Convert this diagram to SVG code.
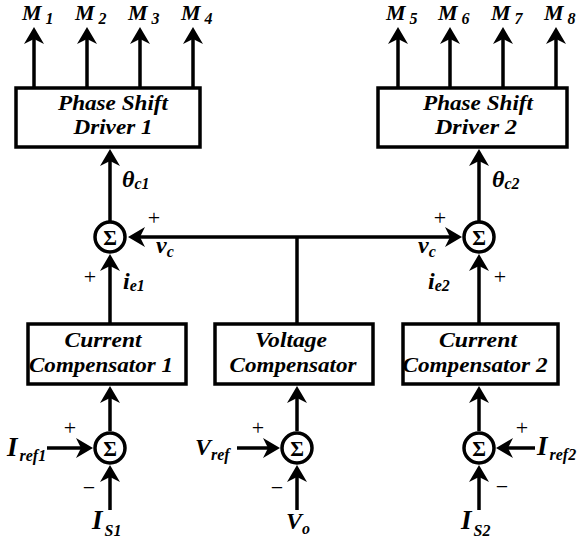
<svg xmlns="http://www.w3.org/2000/svg" width="582" height="542" viewBox="0 0 582 542">
<defs>
<marker id="ah" markerUnits="userSpaceOnUse" viewBox="-14 -11 21 22" markerWidth="21" markerHeight="22" refX="0" refY="0" orient="auto" overflow="visible">
<path d="M5,0 L-12,-10 L-7,0 L-12,10 Z" fill="#000"/>
</marker>
</defs>
<style>
.ln{stroke:#000;stroke-width:3.5;fill:none}
.arr{stroke:#000;stroke-width:3.5;fill:none;marker-end:url(#ah)}
.box{stroke:#000;stroke-width:3.5;fill:#fff}
.sum{stroke:#000;stroke-width:3.5;fill:#fff}
text{font-family:"Liberation Serif","Times New Roman",serif;font-weight:bold;font-style:italic;fill:#000}
.bt{font-size:22px;text-anchor:middle}
.sg{font-size:21px;font-style:normal;text-anchor:middle}
.pm{font-size:22px;font-style:normal;font-weight:normal;text-anchor:middle}
.lb{font-size:24px}
.ml{font-size:22px}
.big{font-size:27px}
.sb{font-size:16px}
</style>

<g id="connectors">
<line class="arr" x1="34" y1="87" x2="34" y2="32"/>
<line class="arr" x1="87" y1="87" x2="87" y2="32"/>
<line class="arr" x1="140" y1="87" x2="140" y2="32"/>
<line class="arr" x1="193" y1="87" x2="193" y2="32"/>
<line class="arr" x1="398" y1="87" x2="398" y2="32"/>
<line class="arr" x1="450" y1="87" x2="450" y2="32"/>
<line class="arr" x1="503" y1="87" x2="503" y2="32"/>
<line class="arr" x1="556" y1="87" x2="556" y2="32"/>
<line class="arr" x1="110" y1="221" x2="110" y2="154"/>
<line class="arr" x1="479" y1="221" x2="479" y2="154"/>
<line class="ln" x1="297" y1="237" x2="297" y2="323"/>
<line class="arr" x1="297" y1="237" x2="133" y2="237"/>
<line class="arr" x1="297" y1="237" x2="457" y2="237"/>
<line class="arr" x1="110" y1="323" x2="110" y2="259"/>
<line class="arr" x1="479" y1="323" x2="479" y2="259"/>
<line class="arr" x1="110" y1="431" x2="110" y2="391"/>
<line class="arr" x1="297" y1="431" x2="297" y2="391"/>
<line class="arr" x1="479" y1="431" x2="479" y2="391"/>
<line class="arr" x1="47" y1="448" x2="88" y2="448"/>
<line class="arr" x1="237" y1="448" x2="275" y2="448"/>
<line class="arr" x1="535" y1="448" x2="501" y2="448"/>
<line class="arr" x1="110" y1="510" x2="110" y2="470"/>
<line class="arr" x1="297" y1="510" x2="297" y2="470"/>
<line class="arr" x1="479" y1="510" x2="479" y2="470"/>
</g>

<g id="psd1">
<rect class="box" x="16" y="88" width="184" height="59"/>
<text class="bt" x="113" y="110" textLength="110" lengthAdjust="spacingAndGlyphs">Phase Shift</text>
<text class="bt" x="113" y="134" textLength="79" lengthAdjust="spacingAndGlyphs">Driver 1</text>
</g>
<g id="psd2">
<rect class="box" x="378" y="88" width="189" height="59"/>
<text class="bt" x="478" y="110" textLength="110" lengthAdjust="spacingAndGlyphs">Phase Shift</text>
<text class="bt" x="476" y="134" textLength="82" lengthAdjust="spacingAndGlyphs">Driver 2</text>
</g>
<g id="cc1">
<rect class="box" x="28" y="324" width="158" height="60"/>
<text class="bt" x="103" y="347" textLength="77" lengthAdjust="spacingAndGlyphs">Current</text>
<text class="bt" x="101" y="372" textLength="144" lengthAdjust="spacingAndGlyphs">Compensator 1</text>
</g>
<g id="vc">
<rect class="box" x="215" y="324" width="158" height="60"/>
<text class="bt" x="291" y="347" textLength="72" lengthAdjust="spacingAndGlyphs">Voltage</text>
<text class="bt" x="293" y="372" textLength="127" lengthAdjust="spacingAndGlyphs">Compensator</text>
</g>
<g id="cc2">
<rect class="box" x="403" y="324" width="155" height="60"/>
<text class="bt" x="478" y="347" textLength="78" lengthAdjust="spacingAndGlyphs">Current</text>
<text class="bt" x="475" y="372" textLength="145" lengthAdjust="spacingAndGlyphs">Compensator 2</text>
</g>

<g id="sum1"><circle class="sum" cx="110" cy="237" r="15"/><text class="sg" x="110" y="244.5">Σ</text></g>
<g id="sum2"><circle class="sum" cx="479" cy="237" r="15"/><text class="sg" x="479" y="244.5">Σ</text></g>
<g id="sum3"><circle class="sum" cx="110" cy="448" r="15"/><text class="sg" x="110" y="455.5">Σ</text></g>
<g id="sum4"><circle class="sum" cx="297" cy="448" r="15"/><text class="sg" x="297" y="455.5">Σ</text></g>
<g id="sum5"><circle class="sum" cx="479" cy="448" r="15"/><text class="sg" x="479" y="455.5">Σ</text></g>

<g id="labels">
<text class="ml" x="22" y="20">M<tspan class="sb" dx="4" dy="4">1</tspan></text>
<text class="ml" x="75" y="20">M<tspan class="sb" dx="4" dy="4">2</tspan></text>
<text class="ml" x="128" y="20">M<tspan class="sb" dx="4" dy="4">3</tspan></text>
<text class="ml" x="181" y="20">M<tspan class="sb" dx="4" dy="4">4</tspan></text>
<text class="ml" x="386" y="20">M<tspan class="sb" dx="4" dy="4">5</tspan></text>
<text class="ml" x="438" y="20">M<tspan class="sb" dx="4" dy="4">6</tspan></text>
<text class="ml" x="491" y="20">M<tspan class="sb" dx="4" dy="4">7</tspan></text>
<text class="ml" x="544" y="20">M<tspan class="sb" dx="4" dy="4">8</tspan></text>

<text class="lb" x="122" y="187">θ<tspan class="sb" dy="2">c1</tspan></text>
<text class="lb" x="492" y="187">θ<tspan class="sb" dy="2">c2</tspan></text>
<text class="lb" x="156" y="253">v<tspan class="sb" dy="4">c</tspan></text>
<text class="lb" x="418" y="253">v<tspan class="sb" dy="4">c</tspan></text>
<text class="lb" x="123" y="289">i<tspan class="sb" dy="2">e1</tspan></text>
<text class="lb" x="428" y="289">i<tspan class="sb" dy="2">e2</tspan></text>

<text class="pm" x="154" y="225">+</text>
<text class="pm" x="440" y="225">+</text>
<text class="pm" x="90" y="284">+</text>
<text class="pm" x="500" y="284">+</text>
<text class="pm" x="70" y="435">+</text>
<text class="pm" x="258" y="435">+</text>
<text class="pm" x="522" y="435">+</text>
<text class="pm" x="89" y="495">−</text>
<text class="pm" x="277" y="495">−</text>
<text class="pm" x="502" y="494">−</text>

<text class="big" x="7" y="456">I<tspan class="sb" dx="2" dy="5">ref1</tspan></text>
<text class="lb" x="195" y="455">V<tspan class="sb" dy="5">ref</tspan></text>
<text class="big" x="537" y="455">I<tspan class="sb" dx="2" dy="5">ref2</tspan></text>
<text class="big" x="92" y="529">I<tspan class="sb" dx="2" dy="7">S1</tspan></text>
<text class="lb" x="286" y="529">V<tspan class="sb" dy="5">o</tspan></text>
<text class="big" x="461" y="529">I<tspan class="sb" dx="2" dy="7">S2</tspan></text>
</g>
</svg>
